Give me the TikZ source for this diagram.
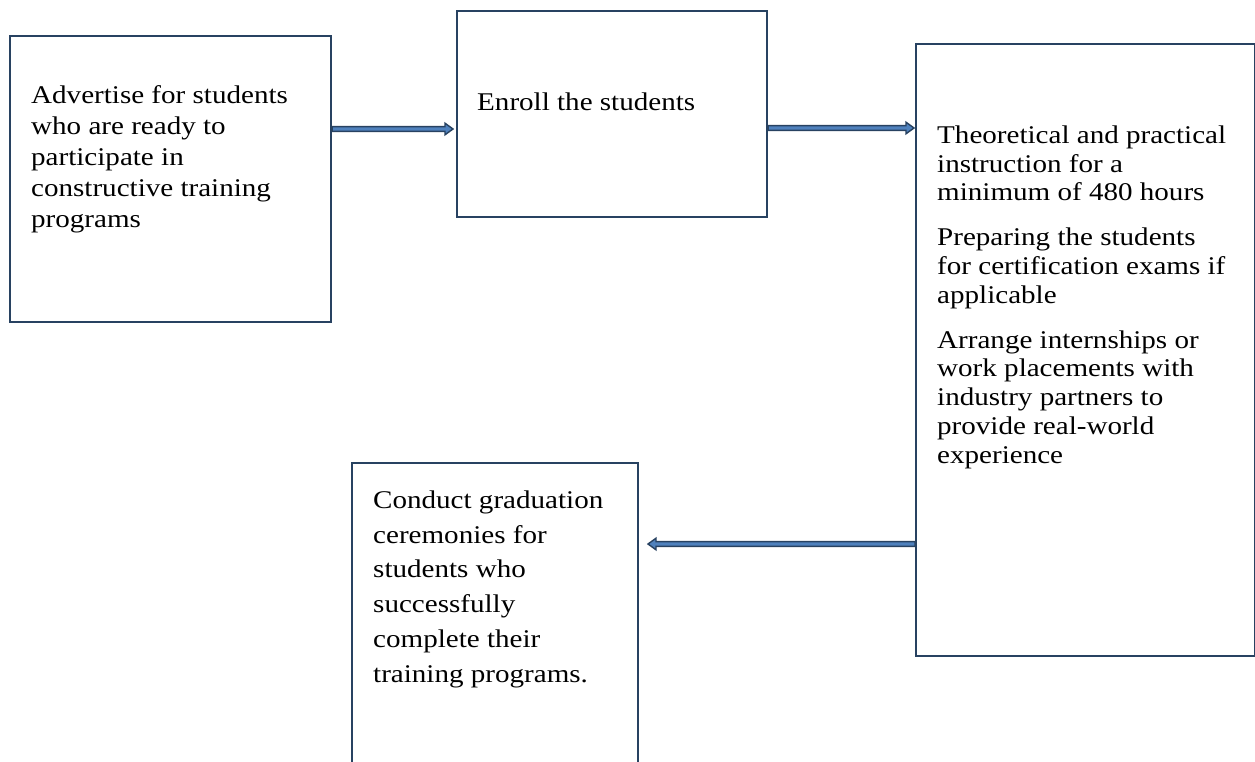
\documentclass[tikz,border=0pt]{standalone}
\usepackage{fontspec}
\setmainfont{Liberation Serif}[FakeStretch=1.14]
\usetikzlibrary{calc}
\definecolor{navy}{RGB}{40,66,97}
\definecolor{lightb}{RGB}{79,129,189}
\tikzset{
  box/.style={draw=navy, line width=2.2pt, rectangle, inner sep=0pt, anchor=north west},
  txt/.style={anchor=north west, inner sep=0pt, align=left, text=black},
  barrow/.style={draw=navy, fill=lightb, line width=1.4pt, line join=miter}
}
\newcommand\rarrow[2]{%
  \draw[barrow] ($(#1)+(0,2.4)$) -- ($(#2)+(-8,2.4)$) -- ($(#2)+(-8,5.8)$) -- (#2)
    -- ($(#2)+(-8,-5.8)$) -- ($(#2)+(-8,-2.4)$) -- ($(#1)+(0,-2.4)$) -- cycle;}
\newcommand\larrow[2]{%
  \draw[barrow] ($(#1)+(0,2.4)$) -- ($(#2)+(8,2.4)$) -- ($(#2)+(8,5.8)$) -- (#2)
    -- ($(#2)+(8,-5.8)$) -- ($(#2)+(8,-2.4)$) -- ($(#1)+(0,-2.4)$) -- cycle;}
\begin{document}
\begin{tikzpicture}[x=1pt,y=-1pt]
\useasboundingbox (0,0) rectangle (1255,762);
\begin{scope}
\clip (0,0) rectangle (1255,762);
\node[box, minimum width=321pt, minimum height=286pt] (A) at (9,35) {};
\node[box, minimum width=310pt, minimum height=206pt] (B) at (456,10) {};
\node[box, minimum width=339pt, minimum height=612pt] (C) at (915,43) {};
\node[box, minimum width=286pt, minimum height=340pt] (D) at (351,462) {};

\node[txt, font={\fontsize{25.5}{31}\selectfont}] (tA) at (31,83)
  {\rule{0pt}{20pt}Advertise for students\\ who are ready to\\ participate in\\ constructive training\\ programs};
\node[txt, font={\fontsize{25.5}{31}\selectfont}] (tB) at (477,90)
  {\rule{0pt}{20pt}Enroll the students};
\node[txt, font={\fontsize{25.5}{28.8}\selectfont}] (tC) at (937,123)
  {\rule{0pt}{20pt}Theoretical and practical\\ instruction for a\\ minimum of 480 hours\\[16pt]
   Preparing the students\\ for certification exams if\\ applicable\\[16pt]
   Arrange internships or\\ work placements with\\ industry partners to\\ provide real-world\\ experience};
\node[txt, font={\fontsize{25.5}{34.8}\selectfont}] (tD) at (373,488)
  {\rule{0pt}{20pt}Conduct graduation\\ ceremonies for\\ students who\\ successfully\\ complete their\\ training programs.};

\coordinate (a1s) at (A.east |- 0,129);
\coordinate (a1e) at (453,129);
\coordinate (a2s) at (B.east |- 0,128);
\coordinate (a2e) at (914,128);
\coordinate (a3s) at (C.west |- 0,544);
\coordinate (a3e) at (648,544);
\rarrow{a1s}{a1e}
\rarrow{a2s}{a2e}
\larrow{a3s}{a3e}
\end{scope}
\end{tikzpicture}
\end{document}
